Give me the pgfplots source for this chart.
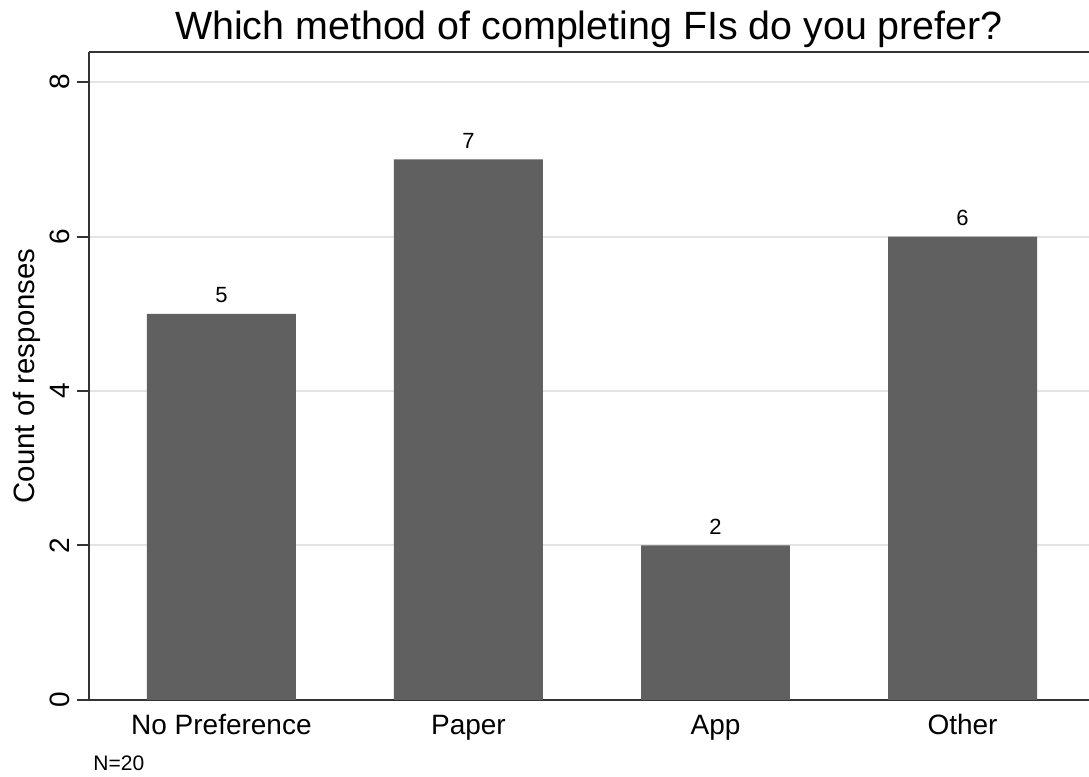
\documentclass[border=0pt]{standalone}
\usepackage{fontspec}
\setmainfont{Liberation Sans}
\usepackage{pgfplots}
\pgfplotsset{compat=1.18}
\definecolor{barfill}{HTML}{606060}
\definecolor{gridgray}{HTML}{E4E4E4}
\begin{document}
\begin{tikzpicture}
\begin{axis}[
    scale only axis,
    width=500pt, height=324pt,
    xmin=-0.536, xmax=3.512,
    ymin=0, ymax=8.39,
    axis x line=box, axis y line=left,
    axis line style={black!80, line width=1pt, -},
    ytick={0,2,4,6,8},
    xtick={0,1,2,3},
    xticklabels={No Preference,Paper,App,Other},
    xtick style={draw=none},
    ytick style={black!80, line width=1pt},
    tick align=outside,
    major tick length=6pt,
    ymajorgrids,
    grid style={gridgray, line width=1pt},
    yticklabel style={rotate=90, anchor=south, font=\fontsize{14}{16}\selectfont},
    xticklabel style={font=\fontsize{14}{16}\selectfont, text height=10.5pt, text depth=3pt, yshift=3pt},
    /pgf/number format/assume math mode=true,
    ylabel={Count of responses},
    ylabel style={font=\fontsize{14.7}{17}\selectfont, yshift=-2pt},
    title={Which method of completing FIs do you prefer?},
    title style={font=\fontsize{19.7}{22}\selectfont, yshift=-7.5pt},
    clip=false,
    nodes near coords,
    every node near coord/.append style={font=\fontsize{11}{13}\selectfont, black, yshift=2pt},
]
\addplot[ybar, bar width=0.603, fill=barfill, draw=none] coordinates {
    (0,5) (1,7) (2,2) (3,6)
};
\node[anchor=north west, font=\fontsize{10.5}{12}\selectfont, inner sep=0pt] at (rel axis cs:0.004,-0.0864) {N=20};
\coordinate (bl) at (rel axis cs:-0.089,-0.1188);
\coordinate (tr) at (rel axis cs:1,1.0802);
\end{axis}
\pgfresetboundingbox
\useasboundingbox (bl) rectangle (tr);
\end{tikzpicture}
\end{document}
